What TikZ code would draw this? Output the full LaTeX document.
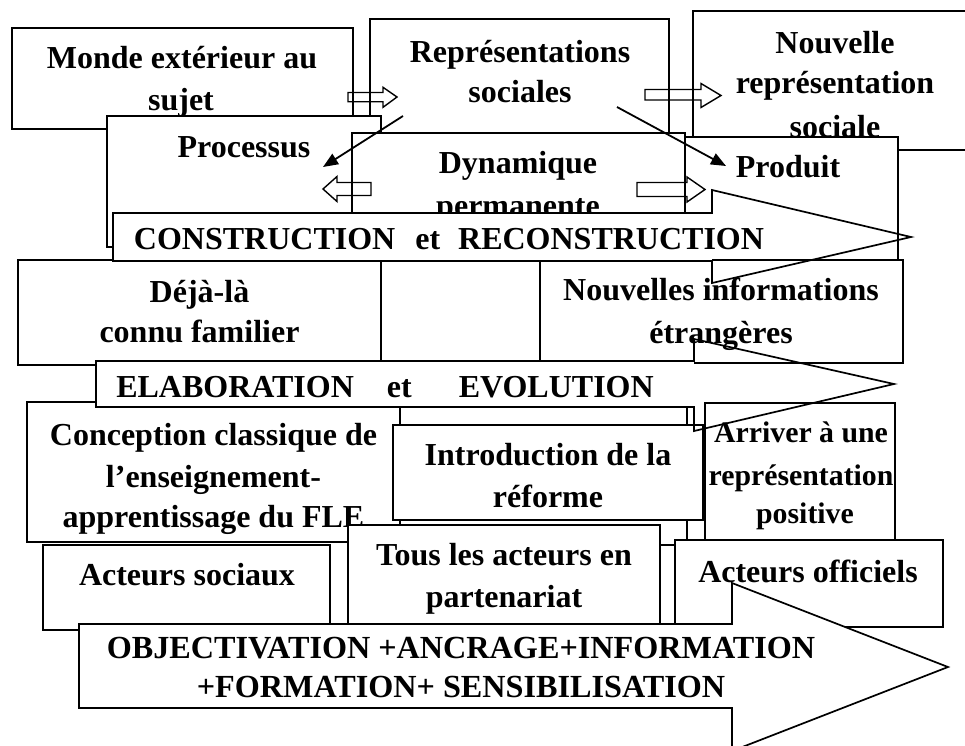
\documentclass[tikz,border=0pt]{standalone}
\usepackage{fontspec}
\setmainfont{Liberation Serif}
\usetikzlibrary{arrows.meta}
\begin{document}
\begin{tikzpicture}[x=1pt,y=-1pt,
 bx/.style={draw=black, fill=white, line width=1.8pt},
 ln/.style={inner sep=0pt, text height=21.8pt, text depth=0pt, font=\bfseries\fontsize{32}{38}\selectfont},
 lnsmall/.style={ln, font=\bfseries\fontsize{29.8}{36}\selectfont},
 lnbig/.style={ln, font=\bfseries\fontsize{32.2}{38}\selectfont},
 hol/.style={draw=black, line width=1.4pt, line join=miter},
 big/.style={draw=black, line width=1.7pt, line join=miter},
 thinarrow/.style={line width=1.8pt, -{Triangle[length=15pt,width=12pt]}}]
\useasboundingbox (0,0) rectangle (965,745);
\clip (0,0) rectangle (965,745);
\fill[white] (0,0) rectangle (965,745);

% ---- top row
\path[bx] (12,28) rectangle (353,129);
\node[ln] (t1a) at (182,57.5) {Monde extérieur au};
\node[ln] (t1b) at (181,99.5) {sujet};
\path[bx] (370,19) rectangle (669,160);
\node[ln] (t2a) at (520,52) {Représentations};
\node[ln] (t2b) at (520,91.5) {sociales};
\path[bx] (693,11) rectangle (990,150);
\node[ln] (t3a) at (835,43) {Nouvelle};
\node[ln] (t3b) at (835,82.5) {représentation};
\node[ln] (t3c) at (835,127) {sociale};

% ---- second row
\path[bx] (107,116) rectangle (381,247);
\node[ln] (t4) at (244,146.5) {Processus};
\path[bx] (352,133) rectangle (685,213);
\node[ln] (t5a) at (518,162.5) {Dynamique};
\node[ln] (t5b) at (518,205.5) {permanente};
\path[bx] (685,137) rectangle (898,262);
\node[ln] (t6) at (788,166.5) {Produit};

% ---- hollow block arrows
\path[hol] (348,92.5) -- (383,92.5) -- (383,87.3) -- (397,97) -- (383,107.3) -- (383,101.7) -- (348,101.7) -- cycle;
\path[hol] (645,89.5) -- (701,89.5) -- (701,83.5) -- (721,95.5) -- (701,107.5) -- (701,100) -- (645,100) -- cycle;
\path[hol] (371,182.5) -- (337,182.5) -- (337,176.5) -- (323,189) -- (337,201.5) -- (337,195.5) -- (371,195.5) -- cycle;
\path[hol] (637,182.5) -- (687,182.5) -- (687,177) -- (705,189.5) -- (687,202) -- (687,196.5) -- (637,196.5) -- cycle;

% ---- thin arrows
\coordinate (a1s) at (403,116);
\coordinate (a1e) at (323,167);
\coordinate (a2s) at (617,107);
\coordinate (a2e) at (726,166);
\draw[thinarrow] (a1s) -- (a1e);
\draw[thinarrow] (a2s) -- (a2e);

% ---- third row
\path[bx] (18,260) rectangle (381,365);
\node[ln] (t7a) at (199.5,291.5) {Déjà-là};
\node[ln] (t7b) at (199.5,331.5) {connu familier};
\path[bx] (381,260) rectangle (540,365);
\path[bx] (540,260) rectangle (903,363);
\node[ln] (t8a) at (721,289.5) {Nouvelles informations};
\node[ln] (t8b) at (721,332.5) {étrangères};

% ---- CONSTRUCTION arrow
\fill[white] (113,213) rectangle (712,261);
\draw[big] (113,213) -- (712,213) -- (712,190) -- (911,237) -- (712,283) -- (712,261) -- (113,261) -- cycle;
\node[ln] (tc) at (449,239) {CONSTRUCTION\hspace{20pt}et\hspace{18pt}RECONSTRUCTION};

% ---- fourth row
\path[bx] (27,402) rectangle (400,542);
\node[ln] (t9a) at (213.5,434.5) {Conception classique de};
\node[ln] (t9b) at (213.5,476.5) {l’enseignement-};
\node[ln] (t9c) at (213.5,516.5) {apprentissage du FLE};
\path[bx] (400,405) rectangle (687,545);
\path[bx] (393,425) rectangle (703,520);
\node[ln] (t10a) at (548,454.5) {Introduction de la};
\node[ln] (t10b) at (548,496.5) {réforme};
\path[bx] (705,403) rectangle (895,542);
\node[lnsmall] (t11a) at (801,431.5) {Arriver à une};
\node[lnsmall] (t11b) at (801,474.5) {représentation};
\node[lnsmall] (t11c) at (805,512.5) {positive};

% ---- ELABORATION arrow
\fill[white] (96,361) rectangle (694,407);
\draw[big] (96,361) -- (694,361) -- (694,339) -- (894,384) -- (694,431) -- (694,407) -- (96,407) -- cycle;
\node[ln] (te) at (385,387) {ELABORATION\hspace{33pt}et\hspace{47pt}EVOLUTION};

% ---- fifth row
\path[bx] (43,545) rectangle (330,630);
\node[ln] (t12) at (187,574.5) {Acteurs sociaux};
\path[bx] (348,525) rectangle (660,625);
\node[ln] (t13a) at (504,554.5) {Tous les acteurs en};
\node[ln] (t13b) at (504,596.5) {partenariat};
\path[bx] (675,540) rectangle (943,627);
\node[ln] (t14) at (808,571.5) {Acteurs officiels};

% ---- OBJECTIVATION arrow
\path[big, fill=white] (79,624) -- (732,624) -- (732,583) -- (948,667) -- (732,751) -- (732,708) -- (79,708) -- cycle;
\node[lnbig] (to1) at (461,647.5) {OBJECTIVATION +ANCRAGE+INFORMATION};
\node[lnbig] (to2) at (461,686.5) {+FORMATION+ SENSIBILISATION};
\end{tikzpicture}
\end{document}
